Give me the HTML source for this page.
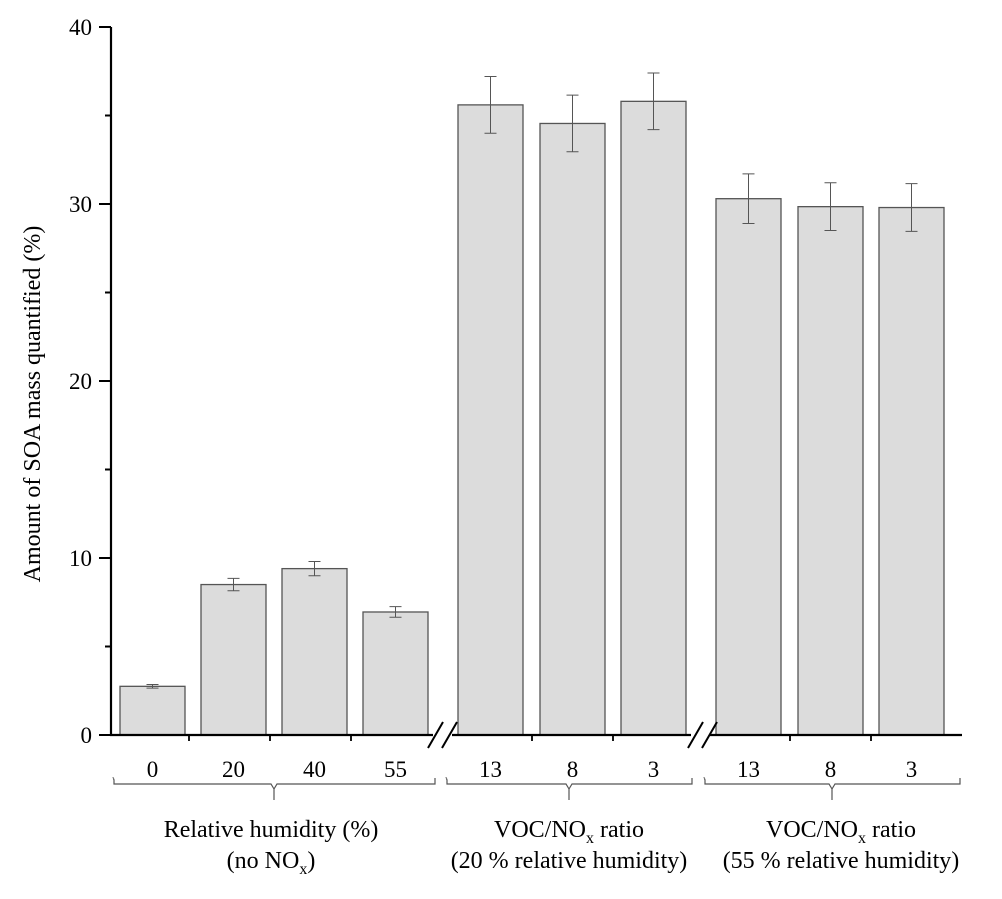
<!DOCTYPE html>
<html><head><meta charset="utf-8"><style>
body{margin:0;background:#fff}
svg{display:block;font-family:"Liberation Serif",serif}
</style></head><body>
<svg id="c" width="1002" height="899"></svg>
<script>
const categories=["0","20","40","55","13","8","3","13","8","3"];
const values=[2.75,8.5,9.4,6.95,35.6,34.55,35.8,30.3,29.85,29.8];
const errors=[0.1,0.35,0.4,0.3,1.6,1.6,1.6,1.4,1.35,1.35];
const yTicks=[0,10,20,30,40];
const barLefts=[120,201,282,363,458,540,621,716,798,879];
const NS="http://www.w3.org/2000/svg";
const svg=document.getElementById('c');
function y(v){return 735-v*17.7;}
function mk(t,a,txt){const e=document.createElementNS(NS,t);for(const k in a)e.setAttribute(k,a[k]);if(txt!==undefined)e.textContent=txt;svg.appendChild(e);return e;}
values.forEach((v,i)=>{
 const x=barLefts[i],w=65;
 const b=mk('rect',{x:x,y:y(v),width:w,height:735-y(v),fill:'#dcdcdc',stroke:'#555','stroke-width':1.3});
 
 
 const cx=x+w/2,e=errors[i];
 const g=mk('path',{d:`M${cx} ${y(v+e)}V${y(v-e)}M${cx-6} ${y(v+e)}H${cx+6}M${cx-6} ${y(v-e)}H${cx+6}`,stroke:'#555','stroke-width':1,fill:'none'});
 
 
 const t=mk('text',{x:cx,y:777,'font-size':23,'text-anchor':'middle'},categories[i]);
 
 
});
mk('line',{x1:111,y1:27,x2:111,y2:736,stroke:'#000','stroke-width':2.2});
yTicks.forEach(v=>{
 mk('line',{x1:99,y1:y(v),x2:111,y2:y(v),stroke:'#000','stroke-width':2});
 const t=mk('text',{x:92,y:y(v)+8,'font-size':23,'text-anchor':'end'},v);
 
 
 if(v<40)mk('line',{x1:105,y1:y(v+5),x2:111,y2:y(v+5),stroke:'#000','stroke-width':2});
});
mk('path',{d:'M110 735H433M452 735H691M710 735H962',stroke:'#000','stroke-width':2.2,fill:'none'});
[189,270,351,532,613,790,871].forEach(x=>mk('line',{x1:x,y1:735,x2:x,y2:741,stroke:'#000','stroke-width':1.8}));
mk('path',{d:'M428 748L443 722M442 748L457 722M688 748L703 722M702 748L717 722',stroke:'#000','stroke-width':2});
function brace(a,b,c){mk('path',{d:`M${a} 778Q${a} 777 ${a+1} 780V784H${c-3}L${c} 789V800M${c} 789L${c+3} 784H${b-1}V778`,fill:'none',stroke:'#555','stroke-width':1.2});}
brace(113,436,274);brace(446,693,569);brace(704,961,832);
const y0=mk('text',{x:0,y:0,'font-size':24,'text-anchor':'middle',transform:'translate(40,404) rotate(-90)'},'Amount of SOA mass quantified (%)');


function lab(x,yy,html,n){const t=mk('text',{x:x,y:yy,'font-size':24,'text-anchor':'middle'});t.innerHTML=html;}
lab(271,837,'Relative humidity (%)','group-label-rh');
lab(271,868,'(no NO<tspan font-size="16" dy="6">x</tspan><tspan dy="-6">)</tspan>','group-label-no-nox');
lab(569,837,'VOC/NO<tspan font-size="16" dy="6">x</tspan><tspan dy="-6"> ratio</tspan>','group-label-voc-20');
lab(569,868,'(20 % relative humidity)','group-label-20rh');
lab(841,837,'VOC/NO<tspan font-size="16" dy="6">x</tspan><tspan dy="-6"> ratio</tspan>','group-label-voc-55');
lab(841,868,'(55 % relative humidity)','group-label-55rh');
</script>
</body></html>
